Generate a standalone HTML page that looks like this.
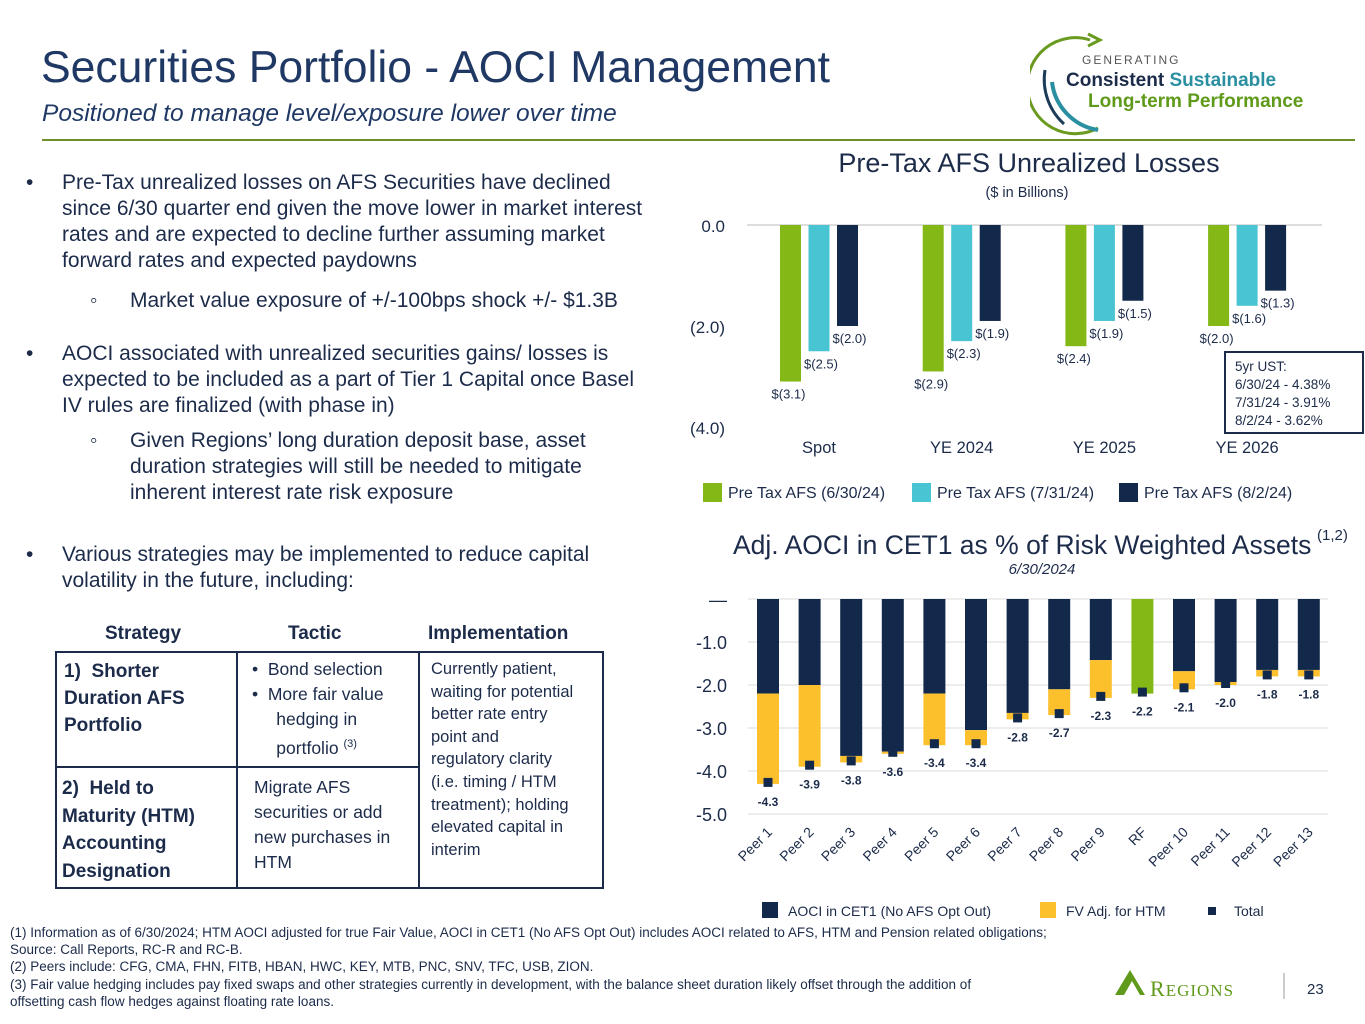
<!DOCTYPE html>
<html><head><meta charset="utf-8">
<style>
body{margin:0;background:#fff;}
#page{position:relative;width:1365px;height:1024px;overflow:hidden;font-family:"Liberation Sans",sans-serif;color:#1c2b4a;}
.a{position:absolute;white-space:nowrap;}
.b{font-size:21px;line-height:26px;}
</style></head>
<body>
<div id="page">
<div class="a" style="left:41px;top:43px;font-size:44.5px;color:#1f3864;">Securities Portfolio - AOCI Management</div>
<div class="a" style="left:42px;top:100px;font-size:24.5px;font-style:italic;color:#1f3864;">Positioned to manage level/exposure lower over time</div>
<div class="a" style="left:42px;top:139px;width:1313px;height:2px;background:#6f8f2a;"></div>

<svg class="a" style="left:1030px;top:20px" width="320" height="120">
<path d="M60 20 A48 48 0 1 0 68 108" fill="none" stroke="#6a9a1f" stroke-width="3"/>
<path d="M58 14 L70 20 L58 26" fill="none" stroke="#6a9a1f" stroke-width="3"/>
<path d="M15 50 A60 60 0 0 0 34 104" fill="none" stroke="#1c3d5a" stroke-width="3"/>
<path d="M22 62 A55 55 0 0 0 68 110" fill="none" stroke="#2a8fa0" stroke-width="4"/>
<text x="52" y="44" font-size="12" letter-spacing="2" fill="#555" font-family="Liberation Sans">GENERATING</text>
<text x="36" y="66" font-size="19" font-weight="bold" fill="#1c2b4a" font-family="Liberation Sans">Consistent <tspan fill="#2a8fa0">Sustainable</tspan></text>
<text x="58" y="87" font-size="19" font-weight="bold" fill="#5f9a1a" font-family="Liberation Sans">Long-term Performance</text>
</svg>

<div class="a b" style="left:26px;top:170px;">•</div>
<div class="a b" style="left:62px;top:170px;">Pre-Tax unrealized losses on AFS Securities have declined<br>since 6/30 quarter end given the move lower in market interest<br>rates and are expected to decline further assuming market<br>forward rates and expected paydowns</div>
<div class="a b" style="left:90px;top:288px;">◦</div>
<div class="a b" style="left:130px;top:288px;">Market value exposure of +/-100bps shock +/- $1.3B</div>
<div class="a b" style="left:26px;top:341px;">•</div>
<div class="a b" style="left:62px;top:341px;">AOCI associated with unrealized securities gains/ losses is<br>expected to be included as a part of Tier 1 Capital once Basel<br>IV rules are finalized (with phase in)</div>
<div class="a b" style="left:90px;top:428px;">◦</div>
<div class="a b" style="left:130px;top:428px;">Given Regions’ long duration deposit base, asset<br>duration strategies will still be needed to mitigate<br>inherent interest rate risk exposure</div>
<div class="a b" style="left:26px;top:542px;">•</div>
<div class="a b" style="left:62px;top:542px;">Various strategies may be implemented to reduce capital<br>volatility in the future, including:</div>

<div>
<div class="a" style="left:105px;top:623px;font-size:19px;font-weight:bold;">Strategy</div>
<div class="a" style="left:288px;top:623px;font-size:19px;font-weight:bold;">Tactic</div>
<div class="a" style="left:428px;top:623px;font-size:19px;font-weight:bold;">Implementation</div>
<div class="a" style="left:55px;top:651px;width:545px;height:234px;border:2px solid #1c2b4a;"></div>
<div class="a" style="left:236px;top:651px;width:2px;height:237px;background:#1c2b4a;"></div>
<div class="a" style="left:418px;top:651px;width:2px;height:237px;background:#1c2b4a;"></div>
<div class="a" style="left:55px;top:766px;width:364px;height:2px;background:#1c2b4a;"></div>
<div class="a" style="left:64px;top:658px;font-size:19px;font-weight:bold;line-height:27px;">1)&nbsp; Shorter<br>Duration AFS<br>Portfolio</div>
<div class="a" style="left:252px;top:657px;font-size:17.5px;line-height:25px;">•&nbsp; Bond selection<br>•&nbsp; More fair value<br>&nbsp;&nbsp;&nbsp;&nbsp; hedging in<br>&nbsp;&nbsp;&nbsp;&nbsp; portfolio <sup style="font-size:11px">(3)</sup></div>
<div class="a" style="left:431px;top:658px;font-size:16.5px;line-height:22.6px;">Currently patient,<br>waiting for potential<br>better rate entry<br>point and<br>regulatory clarity<br>(i.e. timing / HTM<br>treatment); holding<br>elevated capital in<br>interim</div>
<div class="a" style="left:62px;top:775px;font-size:19px;font-weight:bold;line-height:27.5px;">2)&nbsp; Held to<br>Maturity (HTM)<br>Accounting<br>Designation</div>
<div class="a" style="left:254px;top:775px;font-size:17.5px;line-height:25px;">Migrate AFS<br>securities or add<br>new purchases in<br>HTM</div>
</div>

<div class="a" style="left:10px;top:924px;font-size:13.5px;line-height:17.2px;">(1) Information as of 6/30/2024; HTM AOCI adjusted for true Fair Value, AOCI in CET1 (No AFS Opt Out) includes AOCI related to AFS, HTM and Pension related obligations;<br>Source: Call Reports, RC-R and RC-B.<br>(2) Peers include: CFG, CMA, FHN, FITB, HBAN, HWC, KEY, MTB, PNC, SNV, TFC, USB, ZION.<br>(3) Fair value hedging includes pay fixed swaps and other strategies currently in development, with the balance sheet duration likely offset through the addition of<br>offsetting cash flow hedges against floating rate loans.</div>

<svg class="a" style="left:1110px;top:965px" width="250" height="40">
<polygon points="5,30 20,5 35,30" fill="#5f9a1a"/>
<polygon points="14,30 22,16 30,30" fill="#fff"/>
<text x="40" y="31" font-family="Liberation Serif" font-size="22" fill="#5f9a1a" letter-spacing="1">R<tspan font-size="17">EGIONS</tspan></text>
<line x1="174" y1="8" x2="174" y2="34" stroke="#999" stroke-width="1"/>
<text x="197" y="29" font-family="Liberation Sans" font-size="15" fill="#1c2b4a">23</text>
</svg>

<svg id="c1" class="a" style="left:0;top:0" width="1365" height="520">
<text x="1029" y="172" text-anchor="middle" font-size="27" fill="#1c2b4a">Pre-Tax AFS Unrealized Losses</text>
<text x="1027" y="197" text-anchor="middle" font-size="14.5" fill="#1c2b4a">($ in Billions)</text>
<g id="c1g"></g>
<rect x="1225" y="352" width="138" height="81" fill="#fff" stroke="#1c2b4a" stroke-width="2"/>
<text font-size="13.5" fill="#1c2b4a"><tspan x="1235" y="371">5yr UST:</tspan><tspan x="1235" y="389">6/30/24 - 4.38%</tspan><tspan x="1235" y="407">7/31/24 - 3.91%</tspan><tspan x="1235" y="425">8/2/24 - 3.62%</tspan></text>
</svg>

<svg id="c2" class="a" style="left:0;top:520px" width="1365" height="410">
<text x="733" y="34" font-size="26.5" fill="#1c2b4a">Adj. AOCI in CET1 as % of Risk Weighted Assets</text>
<text x="1317" y="20" font-size="15" fill="#1c2b4a">(1,2)</text>
<text x="1042" y="54" text-anchor="middle" font-size="15" font-style="italic" fill="#1c2b4a">6/30/2024</text>
<g id="c2g"></g>
</svg>
</div>
<script>
const c1Categories = ["Spot","YE 2024","YE 2025","YE 2026"];
const c1Series = ["Pre Tax AFS (6/30/24)","Pre Tax AFS (7/31/24)","Pre Tax AFS (8/2/24)"];
const c1Jun = [-3.1,-2.9,-2.4,-2.0];
const c1Jul = [-2.5,-2.3,-1.9,-1.6];
const c1Aug = [-2.0,-1.9,-1.5,-1.3];
const c1Ticks = [0,-2,-4];
const c1TickLabels = ["0.0","(2.0)","(4.0)"];

const c2Categories = ["Peer 1","Peer 2","Peer 3","Peer 4","Peer 5","Peer 6","Peer 7","Peer 8","Peer 9","RF","Peer 10","Peer 11","Peer 12","Peer 13"];
const c2Aoci = [-2.2,-2.0,-3.65,-3.55,-2.2,-3.05,-2.65,-2.1,-1.42,-2.2,-1.68,-1.93,-1.65,-1.65];
const c2Total = [-4.3,-3.9,-3.8,-3.6,-3.4,-3.4,-2.8,-2.7,-2.3,-2.2,-2.1,-2.0,-1.8,-1.8];
const c2Ticks = [0,-1,-2,-3,-4,-5];
const c2TickLabels = ["—","-1.0","-2.0","-3.0","-4.0","-5.0"];

const NS="http://www.w3.org/2000/svg";
function mk(parent,tag,attrs,txt){const e=document.createElementNS(NS,tag);for(const k in attrs)e.setAttribute(k,attrs[k]);if(txt!==undefined)e.textContent=txt;parent.appendChild(e);return e;}
function fmt(v){return "$("+Math.abs(v).toFixed(1)+")";}

(function(){
const g=document.getElementById('c1g');
const y=v=>225-v*50.5;
const gx=i=>780+i*142.7;
const bw=21, step=28.5;
c1Ticks.forEach((t,i)=>{
  const tl=mk(g,'text',{x:725,y:y(t)+7,'text-anchor':'end','font-size':17,fill:'#1c2b4a'},c1TickLabels[i]);
  
  
});
const base=mk(g,'line',{x1:747,x2:1322,y1:y(0),y2:y(0),stroke:'#bbb','stroke-width':1});


const series=[c1Jun,c1Jul,c1Aug], cols=['#84b817','#48c4d3','#13294b'];
c1Categories.forEach((c,i)=>{
  series.forEach((s,j)=>{
    const x=gx(i)+j*step, v=s[i];
    const r=mk(g,'rect',{x:x,y:y(0),width:bw,height:y(v)-y(0),fill:cols[j]});
    
    
    const lt=mk(g,'text',{x:x+bw/2-2+(j>0?4:0),y:y(v)+17,'text-anchor':'middle','font-size':13,fill:'#1c2b4a'},fmt(v));
    
    
  });
  const cl=mk(g,'text',{x:gx(i)+39,y:453,'text-anchor':'middle','font-size':16.5,fill:'#1c2b4a'},c);
  
  
});
const lx=[703,912,1119];
c1Series.forEach((s,j)=>{
  const lr=mk(g,'rect',{x:lx[j],y:483,width:19,height:19,fill:cols[j]});
  
  
  const lt=mk(g,'text',{x:lx[j]+25,y:498,'font-size':16,fill:'#1c2b4a'},s);
  
  
});
})();

(function(){
const g=document.getElementById('c2g');
const y=v=>79-v*43;
const bx=i=>757+i*41.6;
const bw=22;
c2Ticks.forEach((t,i)=>{
  const gl=mk(g,'line',{x1:748,x2:1328,y1:y(t),y2:y(t),stroke:'#e2e2e2','stroke-width':1.3});
  
  
  const tl=mk(g,'text',{x:727,y:y(t)+7,'text-anchor':'end','font-size':18,fill:'#1c2b4a'},c2TickLabels[i]);
  
  
});
c2Categories.forEach((c,i)=>{
  const x=bx(i), a=c2Aoci[i], t=c2Total[i];
  const isRF=c==="RF";
  const r=mk(g,'rect',{x:x,y:y(0),width:bw,height:y(a)-y(0),fill:isRF?'#84b817':'#13294b'});
  
  
  if(t<a){
    const f=mk(g,'rect',{x:x,y:y(a),width:bw,height:y(t)-y(a),fill:'#fcc02d'});
    
    
  }
  const m=mk(g,'rect',{x:x+bw/2-4.5,y:y(t)-6,width:9,height:9,fill:'#13294b'});
  
  
  const vl=mk(g,'text',{x:x+bw/2,y:y(t)+22,'text-anchor':'middle','font-size':12,'font-weight':'bold',fill:'#1c2b4a'},t.toFixed(1));
  
  
  const xl=mk(g,'text',{x:x+bw/2+5,y:313,'text-anchor':'end','font-size':14,fill:'#1c2b4a',transform:'rotate(-45 '+(x+bw/2+5)+' 313)'},c);
  
  
});
const lg=[[762,'rect','#13294b','AOCI in CET1 (No AFS Opt Out)'],[1040,'rect','#fcc02d','FV Adj. for HTM'],[1208,'mark','#13294b','Total']];
lg.forEach(L=>{
  let s;
  if(L[1]==='rect') s=mk(g,'rect',{x:L[0],y:382,width:16,height:16,fill:L[2]});
  else s=mk(g,'rect',{x:L[0],y:387,width:8,height:8,fill:L[2]});
  
  
  const t=mk(g,'text',{x:L[0]+26,y:396,'font-size':14,fill:'#1c2b4a'},L[3]);
  
  
});
})();
</script>
</body></html>
